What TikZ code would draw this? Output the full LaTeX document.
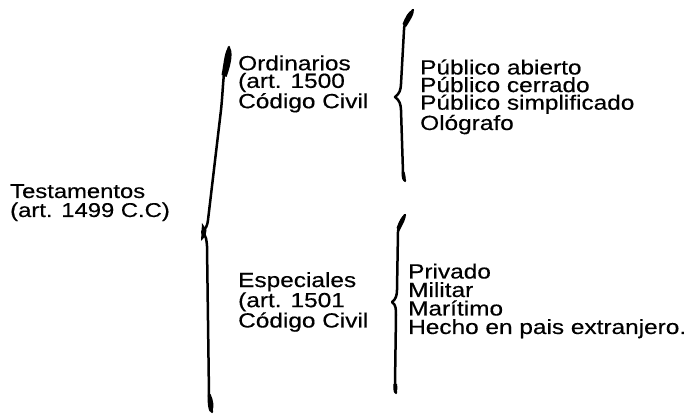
\documentclass[tikz,border=0pt]{standalone}
\usepackage{fontspec}
\setmainfont[FakeStretch=1.19,FakeBold=0.4]{Liberation Sans}
\begin{document}
\begin{tikzpicture}[x=1pt,y=1pt,
  lbl/.style={anchor=base west,inner sep=0pt,align=left,font=\fontsize{20.5}{17.6}\selectfont},
  brace/.style={line width=2.5pt,line cap=round,line join=round},
  blob/.style={fill=black}]
\useasboundingbox (0,0) rectangle (689,-414);

% text blocks (anchored at the baseline of the last line)
\node[lbl,font=\fontsize{20}{19}\selectfont] (test) at (10,-217) {Testamentos\\(art. 1499 C.C)};
\node[lbl] (ord) at (238,-108.2) {Ordinarios\\(art. 1500\\Código Civil};
\node[lbl] (esp) at (238,-327.5) {Especiales\\(art. 1501\\Código Civil};
\node[lbl] (ordl) at (420,-130) {Público abierto\\Público cerrado\\Público simplificado\\Ológrafo};
\node[lbl,font=\fontsize{20.5}{18.5}\selectfont] (espl) at (408,-334) {Privado\\Militar\\Marítimo\\Hecho en pais extranjero.};

% big brace
\coordinate (bT) at (229,-47);
\coordinate (bM) at (202,-232);
\coordinate (bB) at (212,-412);
\draw[brace] (bT) to[out=-105,in=84] (221,-110) -- (208,-220) to[out=-96,in=40] (bM)
  to[out=-40,in=95] (207,-246) -- (209,-395) to[out=-85,in=100] (bB);
\fill[blob] (bT) .. controls (234,-50) and (231,-65) .. (226.5,-77)
  -- (221.5,-75) .. controls (224,-62) and (224.5,-50) .. cycle;
\fill[blob] (bM) ++(0,9) -- ++(4.5,-7) -- ++(-1,-6) -- ++(-4.5,-5) -- cycle;
\fill[blob] (bB) .. controls (208.5,-414) and (207.5,-405) .. (207.5,-395)
  -- (210.5,-394) .. controls (213.5,-400) and (214.5,-407) .. cycle;

% upper small brace
\coordinate (uT) at (413,-10);
\coordinate (uM) at (395,-97);
\coordinate (uB) at (405,-181);
\draw[brace] (uT) to[out=-125,in=88] (404,-30) -- (401,-84) to[out=-92,in=35] (uM)
  to[out=-35,in=92] (401,-110) -- (403,-172) to[out=-88,in=110] (uB);
\fill[blob] (uT) .. controls (415.5,-12) and (410.5,-20) .. (406,-27)
  -- (402.5,-24) .. controls (405,-18) and (408.5,-10) .. cycle;
\fill[blob] (uB) .. controls (402.5,-182) and (401.5,-178) .. (401.5,-172)
  -- (404.5,-172) .. controls (405.5,-176) and (406.5,-179) .. cycle;

% lower small brace
\coordinate (lT) at (405,-215);
\coordinate (lM) at (392,-302);
\coordinate (lB) at (396,-393);
\draw[brace] (lT) to[out=-125,in=88] (398,-232) -- (397,-290) to[out=-92,in=35] (lM)
  to[out=-35,in=92] (396,-315) -- (395,-384) to[out=-88,in=100] (lB);
\fill[blob] (lT) .. controls (407.5,-217) and (402.5,-224) .. (399.5,-231)
  -- (396.5,-228) .. controls (399,-222) and (401.5,-215) .. cycle;
\fill[blob] (lB) .. controls (393.5,-394) and (393,-390) .. (393.5,-384)
  -- (397,-384) .. controls (397.5,-388) and (398,-391) .. cycle;
\end{tikzpicture}
\end{document}
